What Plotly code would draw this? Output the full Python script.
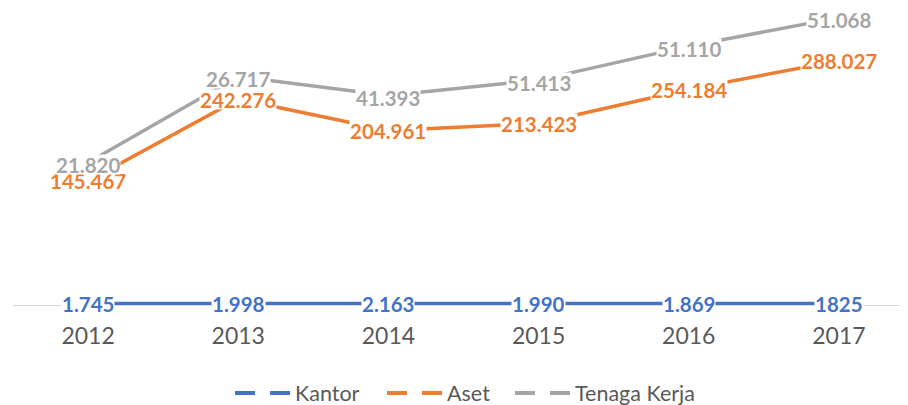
import numpy as np
import plotly.graph_objects as go

years = ["2012", "2013", "2014", "2015", "2016", "2017"]
series_names = ["Kantor", "Aset", "Tenaga Kerja"]
kantor = [1.745, 1.998, 2.163, 1.990, 1.869, 1.825]
aset = [145.467, 242.276, 204.961, 213.423, 254.184, 288.027]
tenaga = [21.820, 26.717, 41.393, 51.413, 51.110, 51.068]
kantor_labels = ["1.745", "1.998", "2.163", "1.990", "1.869", "1825"]
aset_labels = ["145.467", "242.276", "204.961", "213.423", "254.184", "288.027"]
tenaga_labels = ["21.820", "26.717", "41.393", "51.413", "51.110", "51.068"]

colors = ["#4472C4", "#ED7D31", "#A5A5A5"]
FONT = "Lato, 'Open Sans', sans-serif"

values = [kantor, aset, tenaga]
labels = [kantor_labels, aset_labels, tenaga_labels]
# stacked line chart: each line sits on top of the previous series
stacked = np.cumsum(np.array(values), axis=0)

fig = go.Figure()
for name, svals, col in zip(series_names, stacked, colors):
    fig.add_trace(go.Scatter(
        x=years, y=[float(v) for v in svals], name=name, mode="lines",
        line=dict(color=col, width=3.5), showlegend=False, hoverinfo="skip"))

# legend entries (dashed symbol like the reference legend), one legend box each
legend_ids = ["legend", "legend2", "legend3"]
legend_x = [0.2425, 0.4123, 0.5553]
for name, col, lid in zip(series_names, colors, legend_ids):
    fig.add_trace(go.Scatter(
        x=[years[0]], y=[-100], name=name, mode="lines", legend=lid,
        line=dict(color=col, width=4, dash="20px,15px"), showlegend=True, hoverinfo="skip"))

yshifts = [0, 0, -2]
for si, (labs, col) in enumerate(zip(labels, colors)):
    for xi, lab in enumerate(labs):
        fig.add_annotation(
            x=xi, y=float(stacked[si][xi]), xref="x", yref="y", text="<b>" + lab + "</b>",
            showarrow=False, xanchor="center", yanchor="middle", yshift=yshifts[si],
            font=dict(family=FONT, size=20.5, color=col),
            bgcolor="white", borderpad=0, height=19)

legend_style = dict(orientation="h", xanchor="left", y=-0.298, yanchor="middle",
                    font=dict(family=FONT, size=21.5, color="#595959"),
                    itemwidth=55, bgcolor="rgba(0,0,0,0)")

fig.update_layout(
    width=900, height=397,
    margin=dict(l=5, r=0, t=2, b=100, autoexpand=False),
    paper_bgcolor="white", plot_bgcolor="white",
    font=dict(family=FONT, color="#595959"),
    xaxis=dict(type="category", range=[-0.5, 5.46], showline=True, automargin=False,
               linecolor="#D9D9D9", linewidth=1, showgrid=False, zeroline=False,
               ticks="outside", ticklen=10, tickcolor="rgba(0,0,0,0)",
               tickfont=dict(family=FONT, size=23, color="#595959")),
    yaxis=dict(range=[0, 350], visible=False, showgrid=False, zeroline=False, automargin=False),
    legend=dict(x=legend_x[0], **legend_style),
    legend2=dict(x=legend_x[1], **legend_style),
    legend3=dict(x=legend_x[2], **legend_style),
)

fig.write_html("out.html")
